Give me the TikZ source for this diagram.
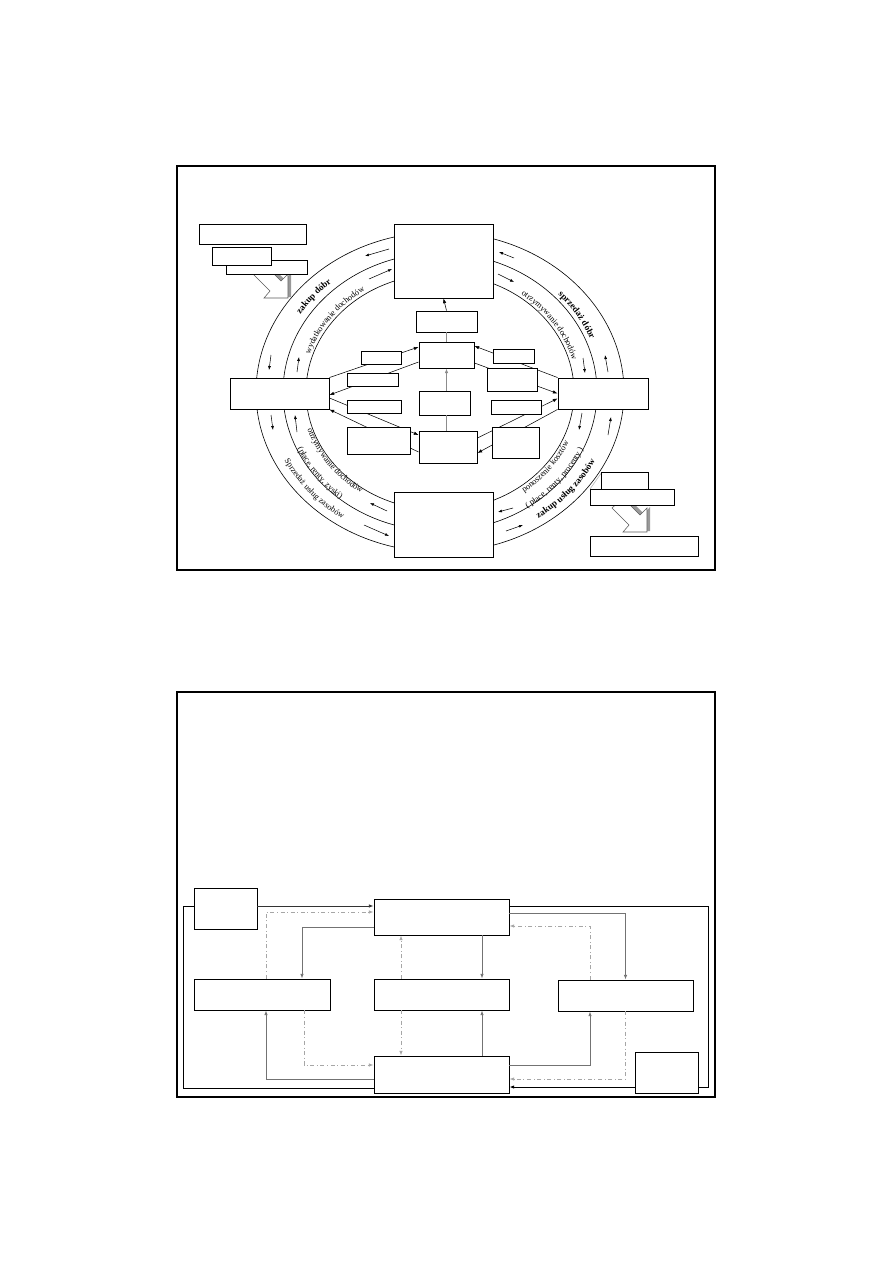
\documentclass[tikz,border=0pt]{standalone}
\usepackage{fontspec}
\setmainfont{Liberation Serif}
\usetikzlibrary{arrows.meta, calc, fit, decorations.text}
\newcommand\crcfont{\fontsize{6.3}{7}\selectfont}
\newcommand\crcbold{\fontsize{6.8}{7.5}\selectfont\bfseries}

\begin{document}
\begin{tikzpicture}[x=0.75pt, y=-0.75pt,
  pbox/.style={draw, fill=white, line width=0.7pt, inner sep=0pt},
  link/.style={-{Latex[length=3.5pt,width=2.6pt]}, line width=0.4pt},
  track/.style={-{Latex[length=3pt,width=2.2pt]}, line width=0.4pt},
  flow/.style={-{Latex[length=3.5pt,width=2.6pt]}, line width=0.6pt, black!55},
  dflow/.style={flow, black!35, dash dot},
  arctext/.style={decorate, decoration={text along path, text align=center, text={#1}}}]

  % Page
  \fill[white] (0,0) rectangle (893,1263);
  \useasboundingbox (0,0) rectangle (893,1263);

  % ===== Upper panel: circular flow =====
  \draw[line width=1.1pt] (177,166) rectangle (715,570);

  % Rings
  \foreach \rx/\ry in {184/160, 157/139, 134/118}
    \draw[line width=0.45pt] (440,392) ellipse [x radius=\rx, y radius=\ry];

  % Small arrows on the rings
  \foreach \xa/\ya/\xb/\yb in {389/249/365/256, 369/279/392/269, 514/258/499/252, 498/274/514/282,
      271/355/269/370, 297/372/299/357, 271/415/273/430, 297/432/295/415,
      608/372/605/355, 583/358/585/373, 608/435/611/417, 582/413/579/430,
      387/511/370/503, 364/525/389/536, 513/508/498/512, 506/531/523/525}
    \draw[track] (\xa,\ya) -- (\xb,\yb);

  % Ring labels, top
  \path[arctext={|\crcbold|zakup dóbr}] (440,392) ++(195:165 and 145)
    arc[start angle=195, end angle=245, x radius=165, y radius=145];
  \path[arctext={|\crcfont|wydatkowanie dochodów}] (440,392) ++(187:137 and 121)
    arc[start angle=187, end angle=247, x radius=137, y radius=121];
  \path[arctext={|\crcbold|sprzedaż dóbr}] (440,392) ++(303:162 and 142)
    arc[start angle=303, end angle=353, x radius=162, y radius=142];
  \path[arctext={|\crcfont|otrzymywanie dochodów}] (440,392) ++(296:137 and 121)
    arc[start angle=296, end angle=356, x radius=137, y radius=121];

  % Ring labels, bottom
  \path[arctext={|\crcfont|otrzymywanie dochodów}] (440,392) ++(174:139 and 123)
    arc[start angle=174, end angle=114, x radius=139, y radius=123];
  \path[arctext={|\crcfont|(płace, renty, zyski)}] (440,392) ++(174:156 and 139)
    arc[start angle=174, end angle=113, x radius=156, y radius=139];
  \path[arctext={|\crcfont|Sprzedaż usług zasobów}] (440,392) ++(170:174 and 153)
    arc[start angle=170, end angle=109, x radius=174, y radius=153];
  \path[arctext={|\crcfont|ponoszenie kosztów}] (440,392) ++(68:141 and 125)
    arc[start angle=68, end angle=8, x radius=141, y radius=125];
  \path[arctext={|\crcfont|( płace, renty, procenty )}] (440,392) ++(72:157 and 140)
    arc[start angle=72, end angle=7, x radius=157, y radius=140];
  \path[arctext={|\crcbold|zakup usług zasobów}] (440,392) ++(70:174 and 153)
    arc[start angle=70, end angle=11, x radius=174, y radius=153];

  % Main boxes
  \node[pbox, fit={(394,224) (493,298)}] (goods) {};
  \node[pbox, fit={(230,378) (329,409)}] (homes) {};
  \node[pbox, fit={(558,378) (648,409)}] (firms) {};
  \node[pbox, fit={(394,492) (493,557)}] (factors) {};

  % Centre column
  \node[pbox, fit={(416,311) (477,332)}] (c1) {};
  \node[pbox, fit={(419,342) (474,368)}] (c2) {};
  \node[pbox, fit={(419,391) (470,415)}] (c3) {};
  \node[pbox, fit={(419,431) (477,463)}] (c4) {};
  \draw[link] (c1.north) -- (goods.south);
  \draw[black!45, line width=0.5pt] (c2.north -| c1.south) -- (c1.south);
  \draw[link, black!45, line width=0.5pt] (c3.north -| c1.south) -- (c2.south -| c1.south);
  \draw[black!45, line width=0.5pt] (c4.north -| c1.south) -- (c3.south -| c1.south);

  % Links between the sides and the centre
  \draw[link] (homes.north east) -- ($(c2.west)+(0,-8)$);
  \draw[link] ($(c2.west)+(0,7)$) -- ($(homes.east)+(0,1.5)$);
  \draw[link] ($(homes.east)+(0,4.5)$) -- ($(c4.west)+(0,-12)$);
  \draw[link] ($(c4.west)+(0,5)$) -- (homes.south east);
  \draw[link] (firms.north west) -- ($(c2.east)+(0,-9)$);
  \draw[link] ($(c2.east)+(0,8)$) -- (firms.west);
  \draw[link] ($(c4.east)+(0,-9)$) -- ($(firms.west)+(0,5)$);
  \draw[link] (firms.south west) -- ($(c4.east)+(0,6)$);

  % Small boxes on the links
  \node[pbox, fit={(361,351) (401,364)}] (ls1) {};
  \node[pbox, fit={(347,373) (398,386)}] (ls2) {};
  \node[pbox, fit={(347,400) (401,413)}] (ls3) {};
  \node[pbox, fit={(347,427) (410,454)}] (ls4) {};
  \node[pbox, fit={(493,349) (534,363)}] (rs1) {};
  \node[pbox, fit={(487,368) (537,391)}] (rs2) {};
  \node[pbox, fit={(491,400) (541,414)}] (rs3) {};
  \node[pbox, fit={(492,427) (539,458)}] (rs4) {};

  % Corner groups with block arrows
  \node[pbox, fit={(199,224) (306,244)}] (tl1) {};
  \draw[gray!60, line width=0.4pt] (602,472) -- (590,489);
  \node[pbox, fit={(601,472) (648,489)}] (br1) {};
  \foreach \dx/\dy in {0/0, 359/234} {
    \fill[black!40, shift={(\dx,\dy)}] (257,273) -- (274,290) -- (268,297) -- (291,297)
      -- (291,273) -- (285,280) -- (268,263) -- cycle;
    \draw[fill=white, draw=black!65, line width=0.4pt, shift={(\dx,\dy)}] (253,274) -- (270,291)
      -- (264,298) -- (288,298) -- (288,274) -- (281,281) -- (264,264) -- cycle;
  }
  \node[pbox, fit={(226,260) (307,274)}] (tl3) {};
  \node[pbox, fit={(212,247) (271,265)}] (tl2) {};
  \node[pbox, fit={(590,489) (674,505)}] (br2) {};
  \node[pbox, fit={(590,536) (698,556)}] (br3) {};

  % ===== Lower panel =====
  \draw[line width=1.1pt] (177,692) rectangle (715,1097);

  \node[pbox, fit={(194,888) (257,929)}] (k1) {};
  \node[pbox, fit={(374,899) (509,935)}] (m1) {};
  \node[pbox, fit={(194,979) (330,1010)}] (lb) {};
  \node[pbox, fit={(374,979) (509,1010)}] (cb) {};
  \node[pbox, fit={(558,980) (693,1011)}] (rb) {};
  \node[pbox, fit={(374,1056) (509,1093)}] (bb) {};

  % Outer loop
  \draw[flow, black, line width=0.7pt] ($(m1.east)+(0,-11)$) -- ++(199,0) |- ($(bb.east)+(0,12.5)$);
  \draw[black, line width=0.7pt] ($(k1.west)+(0,-2.5)$) -- ++(-10,0) |- ($(bb.west)+(0,13.5)$);

  % Solid links
  \draw[flow, black!80] ($(k1.east)+(0,-2.5)$) -- ($(m1.west)+(0,-11)$);
  \draw[flow] ($(m1.west)+(0,10)$) -| ($(lb.north)+(40,0)$);
  \draw[flow] ($(m1.south)+(40.5,0)$) -- ($(cb.north)+(40.5,0)$);
  \draw[flow] ($(m1.east)+(0,-4)$) -| (rb.north);
  \draw[flow] ($(bb.west)+(0,4.5)$) -| ($(lb.south)+(4,0)$);
  \draw[flow] ($(bb.north)+(40.5,0)$) -- ($(cb.south)+(40.5,0)$);
  \draw[flow] ($(bb.east)+(0,-9.5)$) -| ($(rb.south)+(-35.5,0)$);

  % Dash-dot links
  \draw[dflow] ($(lb.north)+(4,0)$) |- ($(m1.west)+(0,-5)$);
  \draw[dflow] ($(lb.south)+(42,0)$) |- ($(bb.west)+(0,-9.5)$);
  \draw[dflow] ($(cb.north)+(-40.5,0)$) -- ($(m1.south)+(-40.5,0)$);
  \draw[dflow] ($(cb.south)+(-40.5,0)$) -- ($(bb.north)+(-40.5,0)$);
  \draw[dflow] ($(rb.north)+(-35.5,0)$) |- ($(m1.east)+(0,9)$);
  \draw[dflow] (rb.south) |- ($(bb.east)+(0,4.5)$);

  \node[pbox, fit={(635,1052) (698,1093)}] (k2) {};
\end{tikzpicture}
\end{document}
